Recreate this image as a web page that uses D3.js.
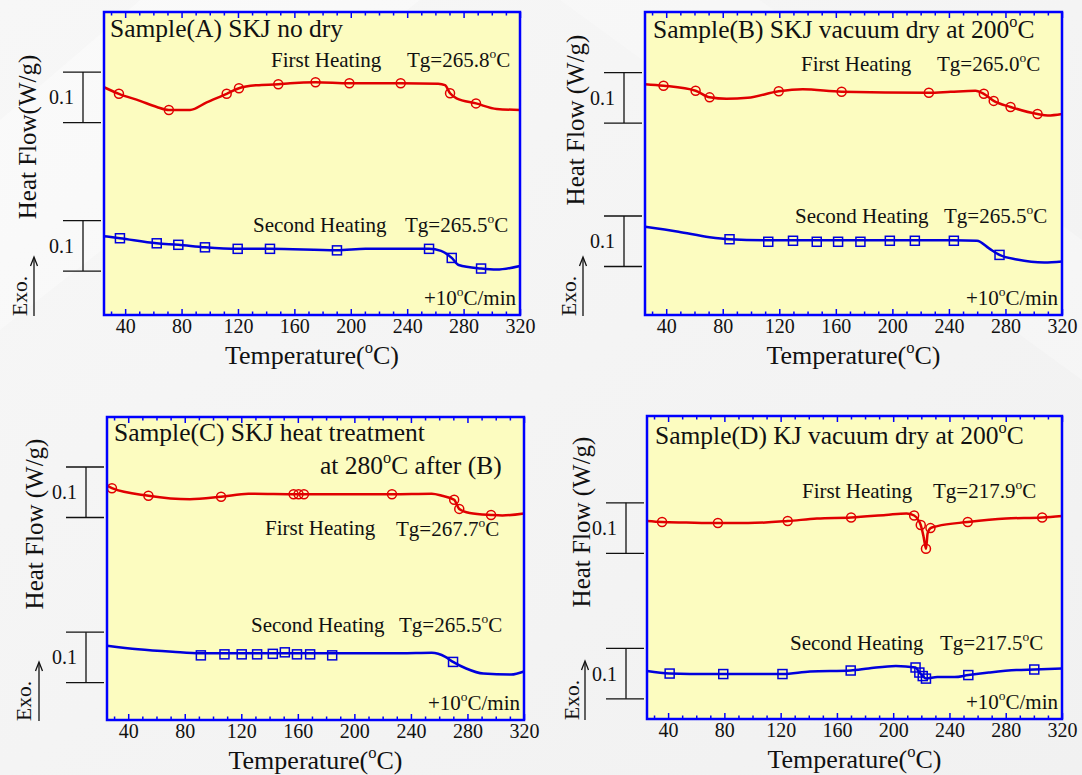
<!DOCTYPE html>
<html>
<head>
<meta charset="utf-8">
<script src="https://cdn.jsdelivr.net/npm/d3@7"></script>
<style>
  body { margin: 0; background: #f4f4f4; }
  text { font-family: "Liberation Serif", "Times New Roman", serif; fill: #111; }
</style>
</head>
<body>
<div id="chart-area"></div>
<script>
// ---- datos: [temperatura (C), flujo de calor (W/g, desplazado)] ----
var aFirst = [[25,0.451],[35.6,0.438],[50.5,0.424],[62.4,0.412],[71,0.406],[86,0.406],[97.8,0.421],[112,0.438],[120.7,0.449],[133.3,0.455],[148.6,0.457],[157,0.459],[175,0.461],[199,0.459],[235.4,0.459],[262,0.458],[266.8,0.455],[270.4,0.439],[275,0.429],[288.8,0.419],[303.5,0.408],[320,0.406]];
var aFirstMarks = [[35.6,0.438],[71,0.406],[112,0.438],[120.7,0.449],[148.6,0.457],[175,0.461],[199,0.459],[235.4,0.459],[270.4,0.439],[288.8,0.419]];
var aSecond = [[25,0.156],[36.3,0.152],[62.4,0.142],[77.7,0.139],[96.6,0.134],[119.8,0.131],[142.7,0.131],[190.2,0.128],[210.5,0.131],[255.5,0.131],[264,0.127],[271.6,0.113],[276.5,0.099],[292.4,0.092],[303.4,0.090],[320,0.097]];
var aSecondMarks = [[36.3,0.152],[62.4,0.142],[77.7,0.139],[96.6,0.134],[119.8,0.131],[142.7,0.131],[190.2,0.128],[255.5,0.131],[271.6,0.113],[292.4,0.092]];

var bFirst = [[25,0.457],[38.1,0.454],[60.8,0.444],[70.7,0.431],[82.7,0.428],[97.6,0.430],[119.6,0.443],[136.5,0.447],[164.1,0.442],[225.8,0.440],[241.3,0.442],[258.7,0.444],[264.7,0.438],[271.7,0.424],[283.6,0.412],[302.7,0.398],[310,0.395],[320,0.398]];
var bFirstMarks = [[38.1,0.454],[60.8,0.444],[70.7,0.431],[119.6,0.443],[164.1,0.442],[225.8,0.440],[264.7,0.438],[271.7,0.424],[283.6,0.412],[302.7,0.398]];
var bSecond = [[25,0.175],[48.7,0.165],[70.7,0.154],[84.8,0.150],[112.2,0.148],[160,0.148],[215.9,0.148],[243.5,0.148],[259.8,0.147],[268.4,0.132],[275.8,0.119],[288.1,0.110],[307.5,0.104],[320,0.106]];
var bSecondMarks = [[84.8,0.150],[112.2,0.145],[129.7,0.147],[146.5,0.145],[161.6,0.145],[177.4,0.145],[198.2,0.147],[215.9,0.147],[243.5,0.147],[275.8,0.119]];

var cFirst = [[25,0.464],[28.5,0.459],[54.3,0.444],[83.6,0.437],[105.7,0.442],[125.1,0.448],[160.5,0.447],[226.6,0.447],[254.7,0.448],[262,0.444],[270.6,0.436],[274.2,0.418],[281.6,0.410],[296.7,0.406],[304.7,0.405],[320,0.409]];
var cFirstMarks = [[28.5,0.459],[54.3,0.444],[105.7,0.442],[157,0.447],[160.5,0.447],[164.3,0.447],[226.6,0.447],[270.6,0.436],[274.2,0.418],[296.7,0.406]];
var cSecond = [[25,0.147],[47,0.140],[71.4,0.135],[91.4,0.132],[150.8,0.132],[193.6,0.132],[232.5,0.132],[254.7,0.133],[264.4,0.125],[269.8,0.115],[279.1,0.102],[291.2,0.092],[310.9,0.090],[320,0.096]];
var cSecondMarks = [[91.4,0.128],[108.1,0.130],[120.3,0.130],[131.2,0.130],[142.3,0.131],[150.8,0.134],[159.4,0.130],[168.7,0.130],[184.3,0.128],[269.8,0.115]];

var dFirst = [[25,0.392],[35.7,0.390],[52.8,0.389],[75.4,0.388],[96.9,0.388],[125,0.392],[145.8,0.397],[170.1,0.399],[194.8,0.404],[209.5,0.407],[214.9,0.403],[217.9,0.394],[219.6,0.384],[221.6,0.361],[223.3,0.337],[224.5,0.368],[226.5,0.378],[231.4,0.382],[253,0.390],[280.2,0.397],[305.9,0.399],[320,0.402]];
var dFirstMarks = [[35.7,0.390],[75.4,0.388],[125,0.392],[170.1,0.399],[214.9,0.403],[219.6,0.384],[223.3,0.337],[226.5,0.378],[253,0.390],[305.9,0.399]];
var dSecond = [[25,0.095],[41.1,0.090],[70,0.089],[79.2,0.089],[94.4,0.089],[121.3,0.089],[140.9,0.094],[169.8,0.096],[182.4,0.100],[201.9,0.105],[215.9,0.102],[218.6,0.092],[221,0.085],[223.3,0.080],[231.4,0.083],[243.6,0.083],[253.4,0.087],[268,0.092],[287.6,0.097],[300.3,0.098],[320,0.100]];
var dSecondMarks = [[41.1,0.090],[79.2,0.089],[121.3,0.089],[169.8,0.096],[215.9,0.102],[218.6,0.092],[221,0.085],[223.3,0.080],[253.4,0.087],[300.3,0.098]];

// barras de escala 0.1 W/g (inferior, superior)
var aBars = [[0.381,0.481],[0.087,0.187]];
var bBars = [[0.380,0.480],[0.096,0.196]];
var cBars = [[0.401,0.501],[0.074,0.174]];
var dBars = [[0.328,0.428],[0.040,0.140]];

// ejes
var tempDomain = [25, 320];
var majorTicks = [40, 80, 120, 160, 200, 240, 280, 320];
var minorTicks = [30, 50, 60, 70, 90, 100, 110, 130, 140, 150, 170, 180, 190, 210, 220, 230, 250, 260, 270, 290, 300, 310];
var flowDomain = [0, 0.6];

// ---- lienzo ----
var svg = d3.select("#chart-area").append("svg")
    .attr("width", 1082)
    .attr("height", 775);

// fondo gris con reflejo suave
var defs = svg.append("defs");
var grad = defs.append("linearGradient").attr("id", "bg")
    .attr("x1", "0").attr("y1", "0").attr("x2", "1").attr("y2", "1");
grad.append("stop").attr("offset", "0").attr("stop-color", "#f7f7f7");
grad.append("stop").attr("offset", "1").attr("stop-color", "#f1f1f1");
svg.append("rect").attr("width", 1082).attr("height", 775).attr("fill", "url(#bg)");
svg.append("path")
    .attr("d", "M0,120 L140,0 L420,0 L0,330 Z")
    .attr("fill", "#ffffff").attr("opacity", 0.35);
svg.append("path")
    .attr("d", "M560,0 L760,0 L1082,240 L1082,380 Z")
    .attr("fill", "#ffffff").attr("opacity", 0.25);

var RED = "#e00000", BLUE = "#0000dc", FRAME = "#0000ff";

// texto con "°" como superindice "o"
function addText(g, x, y, str, size, anchor) {
    var t = g.append("text")
        .attr("x", x).attr("y", y)
        .attr("font-size", size)
        .attr("text-anchor", anchor || "start");
    var parts = str.split("°");
    parts.forEach(function(p, i) {
        if (i > 0) {
            t.append("tspan").attr("font-size", size * 0.64).attr("dy", -size * 0.42).text("o");
            t.append("tspan").attr("dy", size * 0.42).text(p);
        } else {
            t.append("tspan").text(p);
        }
    });
    return t;
}

var panels = [
    { x0: 104, x1: 520, y0: 12, y1: 315, first: aFirst, firstM: aFirstMarks, second: aSecond, secondM: aSecondMarks, bars: aBars,
      title: [["Sample(A) SKJ no dry", 110, 37]],
      labels: [["First Heating", 271, 67], ["Tg=265.8°C", 407, 67], ["Second Heating", 253, 232], ["Tg=265.5°C", 405, 232]],
      ylab: "Heat Flow(W/g)", ylabX: 27, ylabY: 137, exoX: 20, arrowX: 34 },
    { x0: 645, x1: 1062, y0: 12, y1: 315, first: bFirst, firstM: bFirstMarks, second: bSecond, secondM: bSecondMarks, bars: bBars,
      title: [["Sample(B) SKJ vacuum dry at 200°C", 653, 38]],
      labels: [["First Heating", 801, 71], ["Tg=265.0°C", 937, 71], ["Second Heating", 795, 223], ["Tg=265.5°C", 944, 223]],
      ylab: "Heat Flow (W/g)", ylabX: 575, ylabY: 120, exoX: 569, arrowX: 583 },
    { x0: 107, x1: 524, y0: 417, y1: 720, first: cFirst, firstM: cFirstMarks, second: cSecond, secondM: cSecondMarks, bars: cBars,
      title: [["Sample(C) SKJ heat treatment", 114, 441], ["at 280°C after (B)", 320, 474]],
      labels: [["First Heating", 265, 535], ["Tg=267.7°C", 396, 536], ["Second Heating", 251, 632], ["Tg=265.5°C", 399, 632]],
      ylab: "Heat Flow (W/g)", ylabX: 34, ylabY: 524, exoX: 24, arrowX: 39 },
    { x0: 647, x1: 1062, y0: 416, y1: 719, first: dFirst, firstM: dFirstMarks, second: dSecond, secondM: dSecondMarks, bars: dBars,
      title: [["Sample(D) KJ vacuum dry at 200°C", 655, 444]],
      labels: [["First Heating", 802, 498], ["Tg=217.9°C", 933, 498], ["Second Heating", 790, 650], ["Tg=217.5°C", 940, 650]],
      ylab: "Heat Flow (W/g)", ylabX: 581, ylabY: 522, exoX: 572, arrowX: 585 }
];

panels.forEach(function(p) {
    var g = svg.append("g");
    var x = d3.scaleLinear().domain(tempDomain).range([p.x0, p.x1]);
    var y = d3.scaleLinear().domain(flowDomain).range([p.y1, p.y0]);

    // area de trazado
    g.append("rect")
        .attr("x", p.x0).attr("y", p.y0)
        .attr("width", p.x1 - p.x0).attr("height", p.y1 - p.y0)
        .attr("fill", "#fcfcc0");

    // marcas del eje (hacia dentro, arriba y abajo)
    function drawAxis(axisFn, ty, size, withLabels, ticks) {
        var ax = axisFn(x).tickValues(ticks).tickSizeInner(-size).tickSizeOuter(0).tickPadding(4);
        if (!withLabels) ax.tickFormat("");
        var ag = g.append("g").attr("transform", "translate(0," + ty + ")").call(ax);
        ag.select(".domain").remove();
        ag.selectAll("line").attr("stroke", FRAME).attr("stroke-width", 1.5);
        ag.selectAll("text").attr("font-size", 20).attr("fill", "#111")
            .style("font-family", '"Liberation Serif", "Times New Roman", serif');
    }
    drawAxis(d3.axisBottom, p.y1, 6, true, majorTicks);
    drawAxis(d3.axisBottom, p.y1, 3.5, false, minorTicks);
    drawAxis(d3.axisTop, p.y0, 6, false, majorTicks);
    drawAxis(d3.axisTop, p.y0, 3.5, false, minorTicks);

    // curvas DSC
    var line = d3.line()
        .x(function(d) { return x(d[0]); })
        .y(function(d) { return y(d[1]); })
        .curve(d3.curveMonotoneX);

    g.append("path").datum(p.first).attr("d", line)
        .attr("fill", "none").attr("stroke", RED).attr("stroke-width", 2.5);
    g.append("path").datum(p.second).attr("d", line)
        .attr("fill", "none").attr("stroke", BLUE).attr("stroke-width", 2.5);

    g.selectAll(".circ").data(p.firstM).enter().append("circle")
        .attr("cx", function(d) { return x(d[0]); })
        .attr("cy", function(d) { return y(d[1]); })
        .attr("r", 4.5)
        .attr("fill", "none").attr("stroke", RED).attr("stroke-width", 1.5);
    g.selectAll(".sq").data(p.secondM).enter().append("rect")
        .attr("x", function(d) { return x(d[0]) - 4.5; })
        .attr("y", function(d) { return y(d[1]) - 4.5; })
        .attr("width", 9).attr("height", 9)
        .attr("fill", "none").attr("stroke", BLUE).attr("stroke-width", 1.5);

    // marco
    g.append("rect")
        .attr("x", p.x0).attr("y", p.y0)
        .attr("width", p.x1 - p.x0).attr("height", p.y1 - p.y0)
        .attr("fill", "none").attr("stroke", FRAME).attr("stroke-width", 2.5);

    // textos
    p.title.forEach(function(t) { addText(g, t[1], t[2], t[0], 25.5); });
    p.labels.forEach(function(t) { addText(g, t[1], t[2], t[0], 21); });
    addText(g, p.x1 - 4, p.y1 - 10, "+10°C/min", 21, "end");
    addText(g, (p.x0 + p.x1) / 2, p.y1 + 49, "Temperature(°C)", 26, "middle");

    g.append("text")
        .attr("transform", "translate(" + (p.ylabX + 9) + "," + p.ylabY + ") rotate(-90)")
        .attr("text-anchor", "middle")
        .attr("font-size", 25)
        .text(p.ylab);

    // barras de escala 0.1 W/g
    var vx = p.x0 - 21;
    p.bars.forEach(function(b) {
        var yt = y(b[1]), yb = y(b[0]);
        g.append("line").attr("x1", p.x0 - 41).attr("x2", p.x0 - 3).attr("y1", yt).attr("y2", yt)
            .attr("stroke", "#111").attr("stroke-width", 1.3);
        g.append("line").attr("x1", p.x0 - 41).attr("x2", p.x0 - 3).attr("y1", yb).attr("y2", yb)
            .attr("stroke", "#111").attr("stroke-width", 1.3);
        g.append("line").attr("x1", vx).attr("x2", vx).attr("y1", yt).attr("y2", yb)
            .attr("stroke", "#111").attr("stroke-width", 1.3);
        g.append("text").attr("x", vx - 9).attr("y", (yt + yb) / 2 + 7)
            .attr("text-anchor", "end").attr("font-size", 20).text("0.1");
    });

    // Exo. con flecha
    g.append("text")
        .attr("transform", "translate(" + (p.exoX + 7) + "," + (p.y1 + 1) + ") rotate(-90)")
        .attr("font-size", 21.5)
        .text("Exo.");
    var ay0 = p.y1 + 1, ay1 = p.y1 - 58;
    g.append("line").attr("x1", p.arrowX).attr("x2", p.arrowX).attr("y1", ay0).attr("y2", ay1 + 1)
        .attr("stroke", "#111").attr("stroke-width", 1.3);
    g.append("path")
        .attr("d", "M" + (p.arrowX - 3.5) + "," + (ay1 + 9) + " L" + p.arrowX + "," + ay1 + " L" + (p.arrowX + 3.5) + "," + (ay1 + 9))
        .attr("fill", "none").attr("stroke", "#111").attr("stroke-width", 1.3);
});
</script>
</body>
</html>
